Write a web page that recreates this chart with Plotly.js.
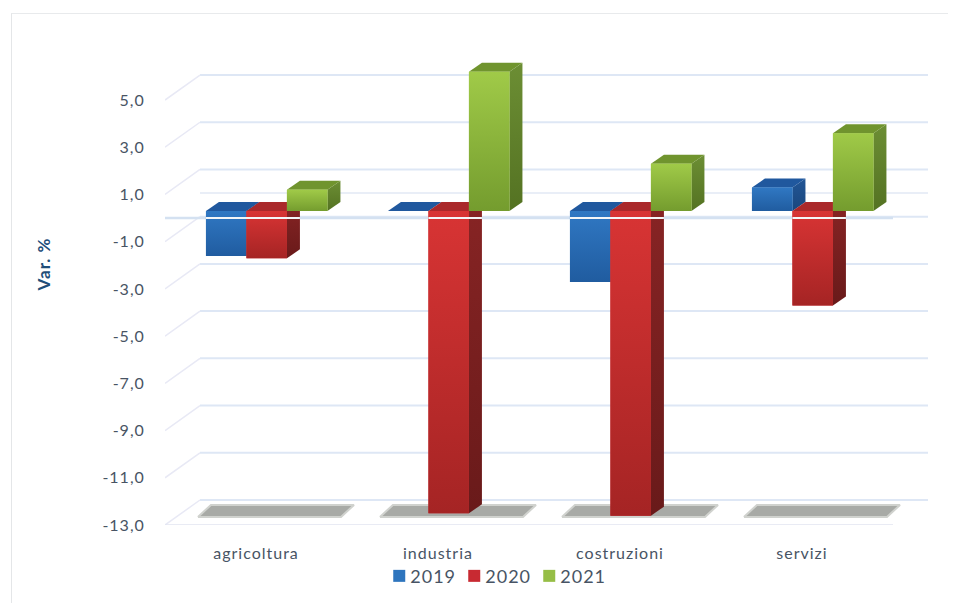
<!DOCTYPE html>
<html><head><meta charset="utf-8">
<script src="https://cdn.plot.ly/plotly-3.0.1.min.js"></script>
<style>
html,body{margin:0;padding:0;background:#fff;width:960px;height:603px;overflow:hidden}
#frame{position:absolute;left:11px;top:13px;width:936px;height:600px;border-left:1px solid #e4e6e8;border-top:1px solid #e8eaec}
#gd{position:absolute;left:0;top:0;width:960px;height:603px}
#gd text{letter-spacing:1px}
</style></head><body>
<div id="frame"></div><div id="gd"></div>
<script>
const categories = ['agricoltura','industria','costruzioni','servizi'];
const catPositions = [1,2,3,4];
const v2019 = [-1.9, 0.0, -3.0, 1.0];
const v2020 = [-2.0, -12.8, -12.9, -4.0];
const v2021 = [0.9, 5.9, 2.0, 3.3];
const seriesNames = ['2019','2020','2021'];
const tickValues = [5,3,1,-1,-3,-5,-7,-9,-11,-13];
const tickLabels = ['5,0','3,0','1,0','-1,0','-3,0','-5,0','-7,0','-9,0','-11,0','-13,0'];

// pseudo-3D projection, in axis units
const pxX = 182, pxY = 23.6;
const wallDX = 35/pxX, wallDY = 25/pxY;
const barDX = 13/pxX, barDY = 9/pxY, barBase = 7/pxY, barW = 40.5/pxX;
const groupOffsets = [-0.1637, 0.0587, 0.2812];
const xLeft = 0.5, xRight = 4.5;
const yMin = -13, yMax = 5 + 97/pxY;

const faceStyle = [
 {legend:'rgb(46,117,190)', frontTop:'rgb(48,120,195)', frontBot:'rgb(32,92,160)', top:'rgb(32,88,158)', sideTop:'rgb(34,86,150)', sideBot:'rgb(26,70,125)'},
 {legend:'rgb(200,42,50)', frontTop:'rgb(216,52,52)', frontBot:'rgb(165,36,36)', top:'rgb(170,40,42)', sideTop:'rgb(135,36,36)', sideBot:'rgb(105,26,26)'},
 {legend:'rgb(150,190,70)', frontTop:'rgb(160,202,72)', frontBot:'rgb(116,156,46)', top:'rgb(112,148,46)', sideTop:'rgb(108,142,52)', sideBot:'rgb(84,114,34)'}
];
const allValues = [v2019, v2020, v2021];
const traces = [];

function line(xs, ys, color, width, z){
  traces.push({type:'scatter',mode:'lines',x:xs,y:ys,line:{color:color,width:width},hoverinfo:'skip',showlegend:false,zorder:z});
}
function poly(xs, ys, c1, c2, z){
  const t = {type:'scatter',mode:'none',x:xs.concat(xs[0]),y:ys.concat(ys[0]),fill:'toself',hoverinfo:'skip',showlegend:false,zorder:z};
  if(c2){ t.fillgradient={type:'vertical',colorscale:[[0,c2],[1,c1]]}; t.fillcolor=c1; }
  else { t.fillcolor=c1; }
  traces.push(t);
}

// walls: back gridlines and left diagonals
tickValues.forEach(v=>{
  line([xLeft+wallDX, xRight+wallDX],[v+wallDY,v+wallDY],'rgb(222,231,245)',2,0);
  line([xLeft, xLeft+wallDX],[v,v+wallDY],'rgb(232,233,245)',1.5,0);
});
line([xLeft+wallDX, xRight+wallDX],[wallDY,wallDY],'rgb(226,233,245)',1.5,0);
line([xLeft, xRight],[yMin,yMin],'rgb(226,229,240)',1.5,0);
line([xLeft, xRight],[0,0],'rgb(212,225,241)',2.5,0);

// floor shadows
catPositions.forEach(c=>{
  const a=c-0.319,w=0.786,s=barDX,lo=-12.66,hi=-12.15;
  traces.push({type:'scatter',mode:'lines',x:[a,a+w,a+w+s,a+s,a],y:[lo,lo,hi,hi,lo],fill:'toself',
    fillcolor:'rgb(168,170,166)',line:{color:'rgb(208,210,206)',width:2},hoverinfo:'skip',showlegend:false,zorder:1});
});

// bars
allValues.forEach((vals,si)=>{
  const st=faceStyle[si], off=groupOffsets[si], z=2+si*2;
  vals.forEach((v,i)=>{
    const xc=catPositions[i]+off, l=xc-barW/2, r=xc+barW/2;
    const yt=Math.max(v,0)+barBase, yb=Math.min(v,0)+barBase;
    if(Math.abs(v)>0){
      poly([r,r+barDX,r+barDX,r],[yb,yb+barDY,yt+barDY,yt],st.sideTop,st.sideBot,z);
    }
    poly([l,r,r+barDX,l+barDX],[yt,yt,yt+barDY,yt+barDY],st.top,null,z);
  });
  traces.push({type:'bar',name:seriesNames[si],x:catPositions.map(c=>c+off),y:vals,base:barBase,width:barW,
    marker:{color:st.legend,line:{width:0}},hoverinfo:'y',showlegend:true,zorder:z+1,legendgroup:seriesNames[si]});
  vals.forEach((v,i)=>{
    if(v===0) return;
    const xc=catPositions[i]+off, l=xc-barW/2, r=xc+barW/2;
    const yt=Math.max(v,0)+barBase, yb=Math.min(v,0)+barBase;
    poly([l,r,r,l],[yb,yb,yt,yt],st.frontTop,st.frontBot,z+1);
  });
});

// pale zero line running over the negative bars
catPositions.forEach((c,i)=>{
  const idx=[0,1,2].filter(s=>allValues[s][i]<0);
  if(!idx.length) return;
  const l=c+groupOffsets[idx[0]]-barW/2, r=c+groupOffsets[idx[idx.length-1]]+barW/2+barDX;
  line([l,r],[0,0],'rgb(244,246,248)',2,9);
});

const textColor='rgb(72,84,100)', font='Lato, "Open Sans", sans-serif';
const layout={
  width:960,height:603,showlegend:true,barmode:'overlay',
  paper_bgcolor:'rgba(0,0,0,0)',plot_bgcolor:'rgba(0,0,0,0)',
  margin:{l:165,r:32,t:3,b:78,pad:0},
  xaxis:{range:[xLeft,xRight+wallDX],tickmode:'array',tickvals:catPositions,ticktext:categories,showgrid:false,zeroline:false,showline:false,
    ticks:'outside',ticklen:14,tickcolor:'rgba(0,0,0,0)',tickfont:{family:font,size:16,color:textColor},fixedrange:true,automargin:false},
  yaxis:{range:[yMin,yMax],tickmode:'array',tickvals:tickValues,ticktext:tickLabels,showgrid:false,zeroline:false,showline:false,
    ticks:'outside',ticklen:16,tickcolor:'rgba(0,0,0,0)',tickfont:{family:font,size:16,color:textColor},fixedrange:true,automargin:false,
    title:{text:'Var. %',font:{family:font,size:17,color:'rgb(31,78,121)',weight:700}}},
  legend:{orientation:'h',x:0.269,xanchor:'left',y:-0.098,yanchor:'middle',font:{family:font,size:18,color:textColor},
    bgcolor:'rgba(0,0,0,0)',traceorder:'normal',itemclick:false,itemdoubleclick:false,entrywidth:30,entrywidthmode:'pixels'}
};
Plotly.newPlot('gd',traces,layout,{displayModeBar:false,staticPlot:true}).then(gd=>{
  // the original keeps the swatches tight against their labels and the axis title far out to the left
  gd.querySelectorAll('.legend .legendsymbols').forEach(g=>g.setAttribute('transform','translate(9,0)'));
  gd.querySelectorAll('.legend .scrollbox').forEach(g=>g.removeAttribute('clip-path'));
  gd.querySelectorAll('.legend .scrollbox').forEach(g=>g.style.clipPath='none');
  const g=gd.querySelector('.g-ytitle');
  if(g) g.setAttribute('transform','translate(-30,0)');
  const t=gd.querySelector('.ytitle');
  if(t) t.setAttribute('transform','translate(-41,0) '+(t.getAttribute('transform')||''));
});
</script></body></html>
